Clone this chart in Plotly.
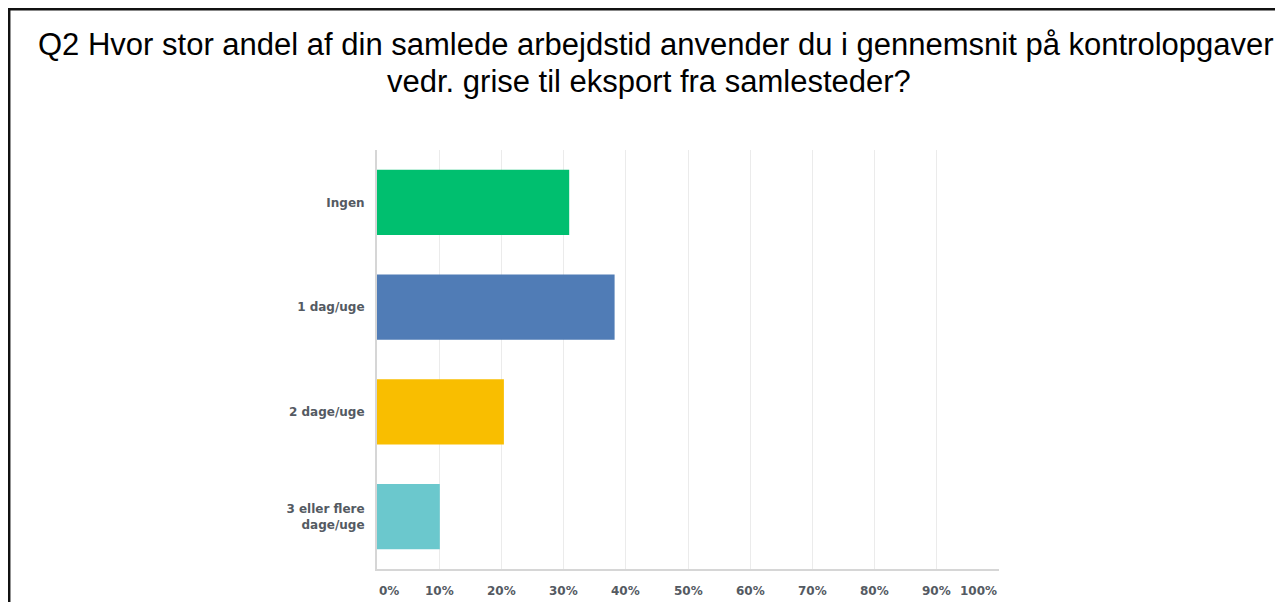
import plotly.graph_objects as go

categories = ["Ingen", "1 dag/uge", "2 dage/uge", "3 eller flere<br>dage/uge"]
values = [30.9, 38.2, 20.4, 10.1]
colors = ["#00BF6F", "#507CB6", "#F9BE00", "#6BC8CD"]
tick_values = [0, 10, 20, 30, 40, 50, 60, 70, 80, 90, 100]
tick_labels = ["0%", "10%", "20%", "30%", "40%", "50%", "60%", "70%", "80%", "90%", "100%"]
title_line1 = "Q2 Hvor stor andel af din samlede arbejdstid anvender du i gennemsnit på kontrolopgaver"
title_line2 = "vedr. grise til eksport fra samlesteder?"

OFF = 8  # browser body margin
W, H = 1283 - 2 * OFF, 610 - 2 * OFF
L = 377 - OFF
T = 150 - OFF
pw, ph = 622, 419
R = W - L - pw
B = H - T - ph

def px(x):
    return (x - OFF - L) / pw

def py(y):
    return (H - B - (y - OFF)) / ph

fig = go.Figure(go.Bar(
    x=values, y=categories, orientation="h",
    marker=dict(color=colors, line=dict(width=0)),
    hoverinfo="skip",
))

label_font = dict(family="DejaVu Sans", size=12, color="#545a62", weight="bold")
title_font = dict(family="Liberation Sans, Arial", size=31, color="#000000")

annotations = [
    dict(text=title_line1, xref="paper", yref="paper", x=px(36), y=py(44),
         xanchor="left", yanchor="middle", showarrow=False, font=title_font),
    dict(text=title_line2, xref="paper", yref="paper", x=px(649), y=py(81),
         xanchor="center", yanchor="middle", showarrow=False, font=title_font),
]
for v, t in zip(tick_values, tick_labels):
    anchor = "left" if v == tick_values[0] else ("right" if v == tick_values[-1] else "center")
    annotations.append(dict(
        text=t, xref="x", yref="paper", x=v, y=py(591), xanchor=anchor, yanchor="middle",
        showarrow=False, font=label_font,
    ))

shapes = [
    dict(type="line", xref="paper", yref="paper", x0=px(7), x1=px(1300), y0=py(9.2), y1=py(9.2),
         line=dict(color="#111111", width=2.5)),
    dict(type="line", xref="paper", yref="paper", x0=px(9.2), x1=px(9.2), y0=py(8), y1=py(640),
         line=dict(color="#111111", width=2.5)),
]

fig.update_layout(
    width=W, height=H,
    margin=dict(l=L, r=R, t=T, b=B, pad=0),
    paper_bgcolor="white", plot_bgcolor="white",
    bargap=0.377,
    showlegend=False,
    annotations=annotations,
    shapes=shapes,
    xaxis=dict(range=[0, 100], tickvals=tick_values, showticklabels=False,
               showgrid=True, gridcolor="#ebebeb", gridwidth=1,
               showline=True, linecolor="#d6d6d6", linewidth=2, zeroline=False,
               fixedrange=True),
    yaxis=dict(autorange="reversed", showline=True, linecolor="#d6d6d6", linewidth=2,
               ticks="", ticklabelstandoff=8, tickfont=label_font, fixedrange=True),
)

fig.write_html("out.html", config={"displayModeBar": False})
